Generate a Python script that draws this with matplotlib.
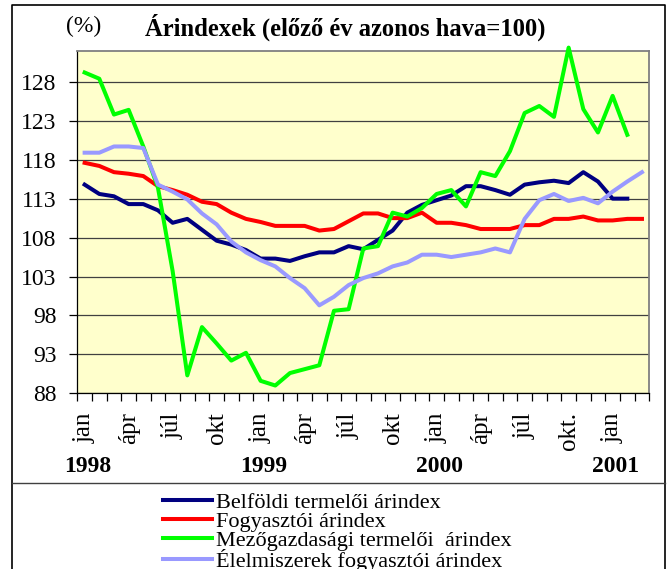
import matplotlib
matplotlib.use("Agg")
import matplotlib.pyplot as plt
from matplotlib.lines import Line2D
import numpy as np

# monthly data, jan 1998 .. mar 2001
belfoldi = [114.8, 113.6, 113.3, 112.3, 112.3, 111.5, 109.9, 110.4, 109.0, 107.6,
            107.1, 106.4, 105.3, 105.3, 105.0, 105.6, 106.1, 106.1, 106.9, 106.5,
            107.7, 108.9, 111.2, 112.2, 112.8, 113.4, 114.6, 114.6, 114.1, 113.5,
            114.8, 115.1, 115.3, 115.0, 116.4, 115.2, 113.0, 113.0, np.nan]
fogyasztoi = [117.6, 117.2, 116.4, 116.2, 115.9, 114.6, 114.1, 113.5, 112.6, 112.3,
              111.2, 110.4, 110.0, 109.5, 109.5, 109.5, 108.9, 109.1, 110.1, 111.1,
              111.1, 110.5, 110.5, 111.2, 109.9, 109.9, 109.6, 109.1, 109.1, 109.1,
              109.6, 109.6, 110.4, 110.4, 110.7, 110.2, 110.2, 110.4, 110.4]
mezogazd = [129.2, 128.4, 123.8, 124.4, 119.7, 114.4, 103.7, 90.3, 96.5, 94.4,
            92.2, 93.2, 89.6, 89.0, 90.6, 91.1, 91.6, 98.6, 98.8, 106.6,
            106.9, 111.2, 110.7, 111.8, 113.6, 114.1, 112.0, 116.4, 115.9, 119.1,
            124.0, 124.9, 123.5, 132.4, 124.5, 121.5, 126.2, 121.2, np.nan]
elelmiszer = [118.9, 118.9, 119.7, 119.7, 119.5, 114.8, 113.9, 112.9, 111.1, 109.7,
              107.5, 106.1, 105.1, 104.3, 102.8, 101.5, 99.3, 100.4, 101.9, 102.8,
              103.4, 104.3, 104.8, 105.8, 105.8, 105.5, 105.8, 106.1, 106.6, 106.1,
              110.4, 112.8, 113.6, 112.7, 113.1, 112.4, 113.9, 115.2, 116.4]

month_labels = ["jan", "ápr", "júl", "okt", "jan", "ápr", "júl", "okt",
                "jan", "ápr", "júl", "okt.", "jan"]
years = ["1998", "1999", "2000", "2001"]
yticks = [88, 93, 98, 103, 108, 113, 118, 123, 128]

series = [
    ("Belföldi termelői árindex", belfoldi, "#000080"),
    ("Fogyasztói árindex", fogyasztoi, "#FF0000"),
    ("Mezőgazdasági termelői  árindex", mezogazd, "#00FF00"),
    ("Élelmiszerek fogyasztói árindex", elelmiszer, "#9999FF"),
]

plt.rcParams["font.family"] = ["Liberation Serif", "DejaVu Serif"]

W, H = 669, 569
fig = plt.figure(figsize=(W / 100, H / 100), dpi=100)
fig.patch.set_facecolor("white")

ax = fig.add_axes([77.3 / W, 1 - 393.3 / H, (649.3 - 77.3) / W, (393.3 - 50.7) / H])
ax.set_facecolor("#FFFFCC")

x = np.arange(len(fogyasztoi))
for name, vals, col in series:
    ax.plot(x, vals, color=col, lw=2.9, label=name, clip_on=False, zorder=3)

ax.set_xlim(-0.5, len(x) - 0.5)
ax.set_ylim(88, 132)
ax.set_yticks(yticks)
ax.yaxis.grid(True, color="#404040", lw=0.9)
ax.set_axisbelow(True)
ax.tick_params(axis="y", labelsize=17, length=6, width=0.9, pad=9, direction="out")

ax.set_xticks(np.arange(-0.5, len(x) + 0.5, 1))
ax.set_xticklabels([])
ax.tick_params(axis="x", length=5.5, width=0.9, direction="out")
for i, lab in zip(range(0, len(x), 3), month_labels):
    ax.text(i, -0.055, lab, rotation=90, ha="center", va="top", fontsize=18,
            transform=ax.get_xaxis_transform())
for i, yr in zip(range(0, len(x), 12), years):
    ax.text(i + 0.2, -0.215, yr, ha="center", va="center", fontsize=17,
            fontweight="bold", transform=ax.get_xaxis_transform())

for s in ["top", "right"]:
    ax.spines[s].set_color("#808080")
    ax.spines[s].set_linewidth(1.3)
for s in ["left", "bottom"]:
    ax.spines[s].set_color("black")
    ax.spines[s].set_linewidth(0.9)

fig.text(83.5 / W, 1 - 26 / H, "(%)", ha="center", va="center", fontsize=17)
fig.text(345 / W, 1 - 27 / H, "Árindexek (előző év azonos hava=100)",
         ha="center", va="center", fontsize=17.7, fontweight="bold")

# outer frame and separator
fig.add_artist(Line2D([11.7 / W, 11.7 / W, 665 / W, 665 / W],
                      [0, 1 - 5 / H, 1 - 5 / H, 0], color="black", lw=1.2,
                      transform=fig.transFigure))
fig.add_artist(Line2D([11.7 / W, 665 / W], [1 - 483 / H, 1 - 483 / H],
                      color="#404040", lw=1.0, transform=fig.transFigure))

handles, labels = ax.get_legend_handles_labels()
fig.legend(handles, labels, loc="upper left",
           bbox_to_anchor=(163 / W, 1 - 492 / H), frameon=False,
           fontsize=16, handlelength=2.2, handletextpad=0.2,
           labelspacing=-0.07, borderpad=0, borderaxespad=0)

fig.savefig("out.png", dpi=100)
